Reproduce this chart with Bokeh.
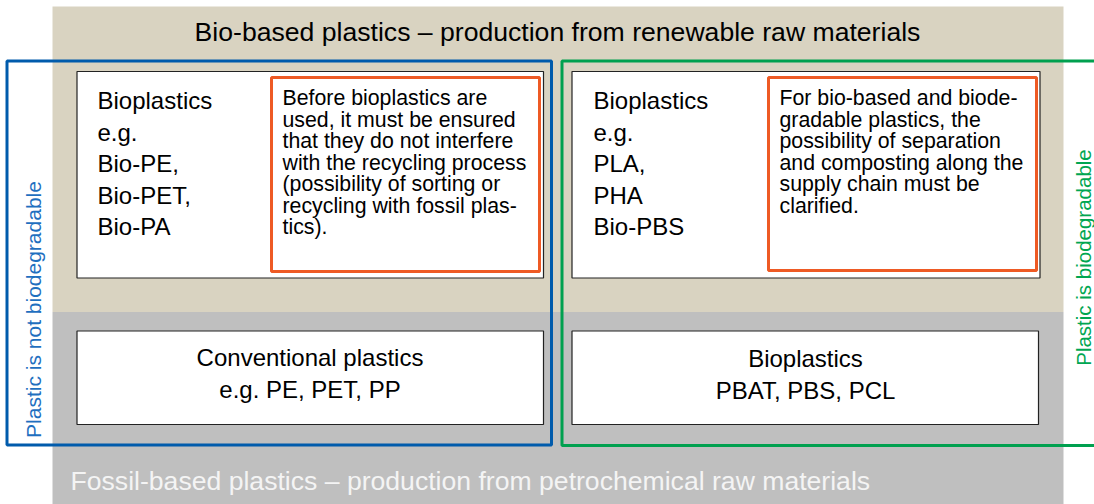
from bokeh.plotting import figure
from bokeh.models import Range1d
from bokeh.embed import file_html
from bokeh.resources import INLINE
from bokeh.core.properties import value
import math

# ---- content -------------------------------------------------------------
top_title = "Bio-based plastics \u2013 production from renewable raw materials"
bottom_title = "Fossil-based plastics \u2013 production from petrochemical raw materials"
left_side_label = "Plastic is not biodegradable"
right_side_label = "Plastic is biodegradable"
left_bio_lines = ["Bioplastics", "e.g.", "Bio-PE,", "Bio-PET,", "Bio-PA"]
right_bio_lines = ["Bioplastics", "e.g.", "PLA,", "PHA", "Bio-PBS"]
left_note_lines = ["Before bioplastics are", "used, it must be ensured",
                   "that they do not interfere", "with the recycling process",
                   "(possibility of sorting or", "recycling with fossil plas-", "tics)."]
right_note_lines = ["For bio-based and biode-", "gradable plastics, the",
                    "possibility of separation", "and composting along the",
                    "supply chain must be", "clarified."]
left_fossil_lines = ["Conventional plastics", "e.g. PE, PET, PP"]
right_fossil_lines = ["Bioplastics", "PBAT, PBS, PCL"]

# ---- layout (pixel coordinates of the picture) ----------------------------
FONT = value("Liberation Sans")
BEIGE = "#D9D3C1"
GREY = "#BFBFBF"
BLUE = "#005BAC"
BLUE_T = "#1F6FBF"
GREEN = "#00A04F"
GREEN_T = "#00A651"
ORANGE = "#EE5A24"

p = figure(width=1094, height=504, x_range=Range1d(0, 1094), y_range=Range1d(504, 0),
           output_backend="svg", toolbar_location=None, min_border=0,
           background_fill_color="white", border_fill_color="white")
p.axis.visible = False
p.grid.visible = False
p.outline_line_color = None

# background bands
p.quad(left=[52, 52], right=[1063, 1063], top=[6, 311.5], bottom=[311.5, 510],
       fill_color=[BEIGE, GREY], line_color=None)

# white boxes
p.quad(left=[76.5, 571.5, 76.5, 571.5], right=[543, 1039.5, 543, 1038],
       top=[71, 71, 330.5, 330.5], bottom=[277.5, 277.5, 424, 424],
       fill_color="white", line_color="#222222", line_width=1.2)

# orange note boxes
p.quad(left=[271, 768], right=[539, 1036], top=[77, 77], bottom=[271, 270],
       fill_color="white", line_color=ORANGE, line_width=3)

# blue and green frames
p.quad(left=[6.5], right=[551], top=[60.5], bottom=[444.5],
       fill_color=None, line_color=BLUE, line_width=3)
p.quad(left=[561.5], right=[1130], top=[60.5], bottom=[445],
       fill_color=None, line_color=GREEN, line_width=3)

def lines(x, y0, dy, items, size, align="left", color="black"):
    p.text(x=[x] * len(items), y=[y0 + i * dy for i in range(len(items))], text=items,
           text_font=FONT, text_font_size=size, text_align=align,
           text_baseline="middle", text_color=color)

lines(557, 31, 0, [top_title], "26.6px", "center")
lines(70, 480, 0, [bottom_title], "26.6px", "left", "#F4F4F4")

lines(97, 100, 31.5, left_bio_lines, "24px")
lines(593, 100, 31.5, right_bio_lines, "24px")
lines(282, 97.5, 21.5, left_note_lines, "21.3px")
lines(779, 97.5, 21.5, right_note_lines, "21.3px")
lines(309.5, 357, 32, left_fossil_lines, "24px", "center")
lines(805, 358, 32, right_fossil_lines, "24px", "center")

p.text(x=[33], y=[309], text=[left_side_label], angle=[math.pi / 2], text_font=FONT,
       text_font_size="21px", text_align="center", text_baseline="middle", text_color=BLUE_T)
p.text(x=[1083], y=[257], text=[right_side_label], angle=[math.pi / 2], text_font=FONT,
       text_font_size="20.5px", text_align="center", text_baseline="middle", text_color=GREEN_T)

open("out.html", "w").write(file_html(p, INLINE))
